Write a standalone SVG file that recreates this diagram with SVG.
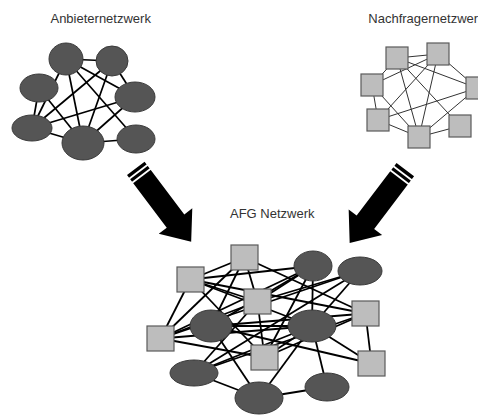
<svg xmlns="http://www.w3.org/2000/svg" width="478" height="415" viewBox="0 0 478 415">
<style>
.t{font-family:"Liberation Sans",Arial,sans-serif;font-size:13px;fill:#333}
.el{fill:#555;stroke:#3a3a3a;stroke-width:1}
.sq{fill:#bdbdbd;stroke:#5a5a5a;stroke-width:1.2}
.lk line{stroke:#000;stroke-width:1.7}
.rk line{stroke:#333;stroke-width:1}
.bk line{stroke:#000;stroke-width:1.8}
</style>
<defs>
<g id="arrow">
<polygon points="0,-11 66,-11 66,-21 92,0 66,21 66,11 0,11" fill="#000"/>
<rect x="3.5" y="-12" width="1.8" height="24" fill="#fff"/>
<rect x="8.5" y="-12" width="1.8" height="24" fill="#fff"/>
</g>
</defs>
<rect width="478" height="415" fill="#fff"/>
<text class="t" x="100.7" y="22.7" text-anchor="middle">Anbieternetzwerk</text>
<text class="t" x="368.3" y="22.7">Nachfragernetzwer</text>
<text class="t" x="230" y="218">AFG Netzwerk</text>

<g id="arrows">
<use href="#arrow" transform="translate(135.8,168.3) rotate(53)"/>
<use href="#arrow" transform="translate(405.3,169.7) rotate(127.2)"/>
</g>

<g id="connectors">
<g class="lk">
<line x1="66" y1="59" x2="112" y2="61"/>
<line x1="112" y1="61" x2="135" y2="97"/>
<line x1="66" y1="59" x2="83" y2="143"/>
<line x1="66" y1="59" x2="135" y2="97"/>
<line x1="66" y1="59" x2="136" y2="139"/>
<line x1="66" y1="59" x2="32" y2="128"/>
<line x1="112" y1="61" x2="32" y2="128"/>
<line x1="112" y1="61" x2="83" y2="143"/>
<line x1="39" y1="88" x2="32" y2="128"/>
<line x1="39" y1="88" x2="83" y2="143"/>
<line x1="135" y1="97" x2="32" y2="128"/>
<line x1="135" y1="97" x2="83" y2="143"/>
<line x1="32" y1="128" x2="83" y2="143"/>
<line x1="83" y1="143" x2="136" y2="139"/>
</g>
<g class="rk">
<line x1="397" y1="58" x2="438" y2="54"/>
<line x1="397" y1="58" x2="372" y2="85"/>
<line x1="397" y1="58" x2="419" y2="137"/>
<line x1="397" y1="58" x2="460" y2="126"/>
<line x1="397" y1="58" x2="477" y2="88"/>
<line x1="438" y1="54" x2="477" y2="88"/>
<line x1="438" y1="54" x2="372" y2="85"/>
<line x1="438" y1="54" x2="378" y2="120"/>
<line x1="438" y1="54" x2="419" y2="137"/>
<line x1="372" y1="85" x2="378" y2="120"/>
<line x1="372" y1="85" x2="419" y2="137"/>
<line x1="378" y1="120" x2="477" y2="88"/>
<line x1="378" y1="120" x2="419" y2="137"/>
<line x1="419" y1="137" x2="477" y2="88"/>
<line x1="419" y1="137" x2="460" y2="126"/>
</g>
<g class="bk">
<line x1="244.5" y1="257.5" x2="190.5" y2="279.5"/>
<line x1="244.5" y1="257.5" x2="257.5" y2="301.5"/>
<line x1="244.5" y1="257.5" x2="160.5" y2="338.5"/>
<line x1="244.5" y1="257.5" x2="365.5" y2="313.5"/>
<line x1="244.5" y1="257.5" x2="211" y2="326"/>
<line x1="190.5" y1="279.5" x2="257.5" y2="301.5"/>
<line x1="190.5" y1="279.5" x2="313" y2="266"/>
<line x1="190.5" y1="279.5" x2="365.5" y2="313.5"/>
<line x1="190.5" y1="279.5" x2="264.5" y2="357.5"/>
<line x1="190.5" y1="279.5" x2="160.5" y2="338.5"/>
<line x1="190.5" y1="279.5" x2="312" y2="326"/>
<line x1="257.5" y1="301.5" x2="313" y2="266"/>
<line x1="257.5" y1="301.5" x2="360" y2="271"/>
<line x1="257.5" y1="301.5" x2="160.5" y2="338.5"/>
<line x1="257.5" y1="301.5" x2="194" y2="373"/>
<line x1="257.5" y1="301.5" x2="264.5" y2="357.5"/>
<line x1="313" y1="266" x2="160.5" y2="338.5"/>
<line x1="313" y1="266" x2="211" y2="326"/>
<line x1="313" y1="266" x2="264.5" y2="357.5"/>
<line x1="313" y1="266" x2="312" y2="326"/>
<line x1="360" y1="271" x2="312" y2="326"/>
<line x1="360" y1="271" x2="160.5" y2="338.5"/>
<line x1="360" y1="271" x2="194" y2="373"/>
<line x1="365.5" y1="313.5" x2="211" y2="326"/>
<line x1="365.5" y1="313.5" x2="371.5" y2="363.5"/>
<line x1="365.5" y1="313.5" x2="264.5" y2="357.5"/>
<line x1="365.5" y1="313.5" x2="194" y2="373"/>
<line x1="160.5" y1="338.5" x2="312" y2="326"/>
<line x1="160.5" y1="338.5" x2="264.5" y2="357.5"/>
<line x1="211" y1="326" x2="259" y2="398"/>
<line x1="211" y1="326" x2="312" y2="326"/>
<line x1="211" y1="326" x2="371.5" y2="363.5"/>
<line x1="312" y1="326" x2="264.5" y2="357.5"/>
<line x1="312" y1="326" x2="259" y2="398"/>
<line x1="312" y1="326" x2="371.5" y2="363.5"/>
<line x1="312" y1="326" x2="194" y2="373"/>
<line x1="312" y1="326" x2="327" y2="387"/>
<line x1="194" y1="373" x2="259" y2="398"/>
<line x1="259" y1="398" x2="327" y2="387"/>
</g>
</g>

<g id="anbieter">
<g id="a1"><ellipse class="el" cx="66" cy="59" rx="17" ry="16"/></g>
<g id="a2"><ellipse class="el" cx="112" cy="61" rx="16" ry="15"/></g>
<g id="a3"><ellipse class="el" cx="39" cy="88" rx="19" ry="14"/></g>
<g id="a4"><ellipse class="el" cx="135" cy="97" rx="20" ry="15"/></g>
<g id="a5"><ellipse class="el" cx="32" cy="128" rx="20" ry="13"/></g>
<g id="a6"><ellipse class="el" cx="83" cy="143" rx="21" ry="17"/></g>
<g id="a7"><ellipse class="el" cx="136" cy="139" rx="19" ry="14"/></g>
</g>

<g id="nachfrager">
<g id="n1"><rect class="sq" x="386" y="47" width="22" height="22"/></g>
<g id="n2"><rect class="sq" x="427" y="43" width="22" height="22"/></g>
<g id="n3"><rect class="sq" x="361" y="74" width="22" height="22"/></g>
<g id="n4"><rect class="sq" x="466" y="77" width="22" height="22"/></g>
<g id="n5"><rect class="sq" x="367" y="109" width="22" height="22"/></g>
<g id="n6"><rect class="sq" x="408" y="126" width="22" height="22"/></g>
<g id="n7"><rect class="sq" x="449" y="115" width="22" height="22"/></g>
</g>

<g id="afg">
<g id="b1"><rect class="sq" x="231" y="245" width="27" height="25"/></g>
<g id="b2"><rect class="sq" x="177" y="267" width="27" height="25"/></g>
<g id="b3"><rect class="sq" x="244" y="289" width="27" height="25"/></g>
<g id="b4"><rect class="sq" x="352" y="301" width="27" height="25"/></g>
<g id="b5"><rect class="sq" x="147" y="326" width="27" height="25"/></g>
<g id="b6"><rect class="sq" x="251" y="345" width="27" height="25"/></g>
<g id="b7"><rect class="sq" x="358" y="351" width="27" height="25"/></g>
<g id="c1"><ellipse class="el" cx="313" cy="266" rx="19" ry="15"/></g>
<g id="c2"><ellipse class="el" cx="360" cy="271" rx="22" ry="14"/></g>
<g id="c3"><ellipse class="el" cx="211" cy="326" rx="21" ry="16"/></g>
<g id="c4"><ellipse class="el" cx="312" cy="326" rx="24" ry="16"/></g>
<g id="c5"><ellipse class="el" cx="194" cy="373" rx="24" ry="13"/></g>
<g id="c6"><ellipse class="el" cx="327" cy="387" rx="22" ry="14"/></g>
<g id="c7"><ellipse class="el" cx="259" cy="398" rx="24" ry="16"/></g>
</g>
</svg>
